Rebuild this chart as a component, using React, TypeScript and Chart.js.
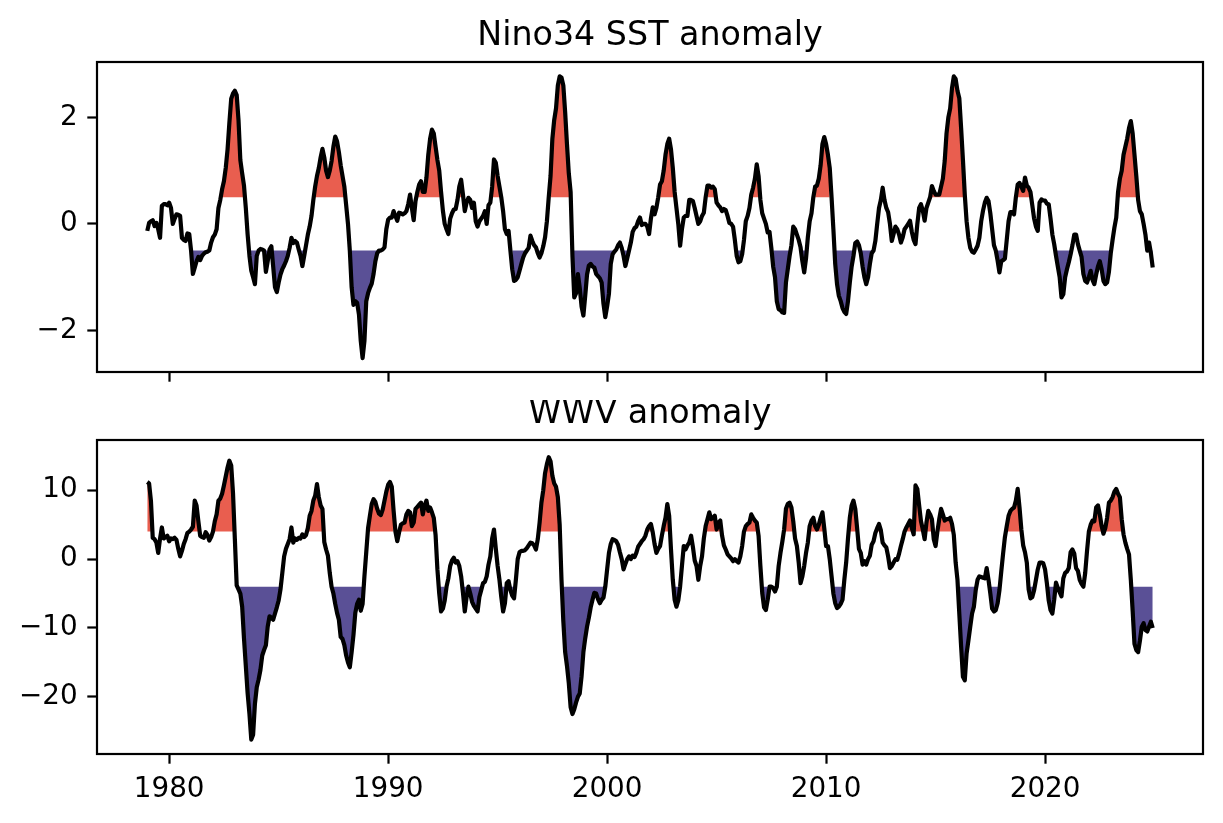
import React, { useEffect, useRef } from "react";
import { Chart, registerables } from "chart.js";
Chart.register(...registerables);

const START_YEAR = 1979;
const X_TICKS = [1980, 1990, 2000, 2010, 2020];
const NINO_Y_TICKS = [-2, 0, 2];
const WWV_Y_TICKS = [-20, -10, 0, 10];
const NINO_THRESHOLD = 0.5;
const WWV_THRESHOLD = 4;
const TITLES = ["Nino34 SST anomaly", "WWV anomaly"];

// Monthly Nino34 SST anomaly, Jan 1979 .. Dec 2024
const NINO34 = [
  -0.13, 0.02, 0.05, 0.07, -0.04, 0.02, -0.1, -0.26, 0.34, 0.37, 0.37, 0.35,
  0.4, 0.3, 0.0, 0.1, 0.18, 0.17, 0.15, -0.26, -0.3, -0.32, -0.18, -0.19,
  -0.5, -0.94, -0.82, -0.7, -0.62, -0.68, -0.6, -0.56, -0.53, -0.52, -0.5, -0.35,
  -0.25, -0.2, -0.1, 0.3, 0.45, 0.65, 0.8, 1.05, 1.4, 1.9, 2.35, 2.45,
  2.5, 2.42, 1.95, 1.2, 0.95, 0.72, 0.3, -0.2, -0.6, -0.88, -1.0, -1.13,
  -0.6, -0.5, -0.47, -0.48, -0.5, -0.9, -0.7, -0.48, -0.42, -0.8, -1.19, -1.28,
  -1.1, -0.95, -0.85, -0.78, -0.7, -0.6, -0.45, -0.26, -0.36, -0.32, -0.35, -0.48,
  -0.6, -0.79, -0.6, -0.4, -0.2, -0.05, 0.15, 0.45, 0.7, 0.9, 1.05, 1.25,
  1.41, 1.25, 1.0, 0.88, 1.0, 1.18, 1.45, 1.64, 1.55, 1.35, 1.1, 0.9,
  0.7, 0.35, 0.0, -0.5, -1.19, -1.52, -1.45, -1.48, -1.7, -2.2, -2.52, -2.2,
  -1.45, -1.3, -1.2, -1.12, -0.94, -0.7, -0.55, -0.5, -0.5, -0.48, -0.44, -0.1,
  0.08, 0.12, 0.12, 0.24, 0.15, 0.06, 0.21, 0.2, 0.18, 0.2, 0.24, 0.37,
  0.55, 0.3, 0.07, 0.43, 0.6, 0.74, 0.8, 0.6, 0.6, 0.87, 1.3, 1.6,
  1.77, 1.7, 1.45, 1.2, 1.0, 0.6, 0.25, 0.0, -0.1, -0.19, 0.1, 0.2,
  0.27, 0.28, 0.45, 0.7, 0.83, 0.55, 0.24, 0.4, 0.49, 0.45, 0.3, 0.4,
  0.05, -0.05, 0.05, 0.1, 0.15, 0.24, 0.0, 0.35, 0.4, 0.7, 1.21, 1.15,
  0.9, 0.7, 0.5, 0.24, -0.1, -0.19, -0.13, -0.5, -0.85, -1.07, -1.05, -1.0,
  -0.88, -0.75, -0.63, -0.55, -0.5, -0.45, -0.22, -0.32, -0.4, -0.44, -0.55, -0.63,
  -0.55, -0.42, -0.25, 0.05, 0.5, 0.9, 1.6, 1.95, 2.17, 2.6, 2.77, 2.75,
  2.6, 2.1, 1.5, 0.95, 0.6, -0.6, -1.38, -1.3, -0.94, -1.2, -1.55, -1.72,
  -1.35, -0.95, -0.78, -0.75, -0.8, -0.82, -0.94, -0.98, -1.02, -1.1, -1.5, -1.75,
  -1.55, -1.31, -0.75, -0.57, -0.52, -0.48, -0.4, -0.35, -0.45, -0.6, -0.79, -0.65,
  -0.5, -0.35, -0.15, -0.08, -0.05, 0.05, 0.12, -0.02, 0.0, 0.0, -0.05, -0.19,
  0.1, 0.31, 0.18, 0.3, 0.5, 0.74, 0.8, 1.0, 1.3, 1.5, 1.6, 1.4,
  1.05, 0.6, 0.3, 0.0, -0.41, -0.1, 0.12, 0.15, 0.15, 0.45, 0.45, 0.43,
  0.3, 0.15, 0.0, 0.05, 0.15, 0.21, 0.5, 0.72, 0.72, 0.68, 0.7, 0.65,
  0.4, 0.35, 0.31, 0.24, 0.28, 0.26, 0.15, 0.02, 0.0, -0.05, -0.3, -0.6,
  -0.72, -0.7, -0.57, -0.3, 0.05, 0.15, 0.3, 0.55, 0.68, 0.85, 1.12, 0.9,
  0.45, 0.2, 0.1, 0.0, -0.16, -0.15, -0.45, -0.8, -1.0, -1.45, -1.6, -1.62,
  -1.66, -1.67, -1.1, -0.85, -0.6, -0.4, -0.05, -0.1, -0.2, -0.3, -0.44, -0.7,
  -0.91, -0.65, -0.25, 0.05, 0.2, 0.5, 0.7, 0.72, 0.85, 1.1, 1.5, 1.63,
  1.5, 1.3, 1.05, 0.5, -0.1, -0.75, -1.13, -1.35, -1.45, -1.58, -1.65, -1.69,
  -1.45, -1.1, -0.8, -0.6, -0.36, -0.33, -0.4, -0.55, -0.8, -1.0, -1.13, -1.0,
  -0.75, -0.55, -0.5, -0.32, 0.0, 0.3, 0.45, 0.68, 0.45, 0.3, 0.22, 0.0,
  -0.32, -0.19, -0.05, -0.1, -0.2, -0.35, -0.25, -0.1, -0.05, 0.0, 0.06, -0.15,
  -0.3, -0.38, 0.0, 0.3, 0.37, 0.25, 0.06, 0.3, 0.4, 0.5, 0.71, 0.62,
  0.55, 0.55, 0.55, 0.7, 0.85, 1.18, 1.7, 2.0, 2.17, 2.55, 2.77, 2.72,
  2.5, 2.36, 1.8, 1.2, 0.55, 0.05, -0.26, -0.45, -0.52, -0.54, -0.48, -0.41,
  -0.26, 0.05, 0.25, 0.4, 0.49, 0.43, 0.2, -0.1, -0.4, -0.5, -0.69, -0.91,
  -0.7, -0.68, -0.65, -0.3, 0.05, 0.22, 0.22, 0.18, 0.5, 0.74, 0.77, 0.7,
  0.62, 0.87, 0.72, 0.68, 0.6, 0.35, 0.1, -0.05, -0.13, 0.4, 0.46, 0.44,
  0.44, 0.38, 0.37, 0.1, -0.2, -0.38, -0.6, -0.8, -1.0, -1.38, -1.32, -1.0,
  -0.85, -0.72, -0.57, -0.4, -0.2, -0.2, -0.38, -0.5, -0.62, -0.94, -1.07, -1.1,
  -1.0, -0.88, -1.05, -1.13, -0.95, -0.8, -0.7, -0.85, -1.07, -1.13, -1.1, -0.9,
  -0.55, -0.3, -0.07, 0.12, 0.6, 0.85, 1.0, 1.3, 1.45, 1.6, 1.8, 1.93,
  1.7, 1.3, 0.9, 0.45, 0.24, 0.18, 0.0, -0.2, -0.5, -0.35, -0.55, -0.82,
];

// Monthly WWV anomaly, Jan 1979 .. Dec 2024
const WWV = [
  11.2, 11.0, 8.5, 3.1, 2.9, 2.4, 0.9, 3.0, 4.6, 3.0, 3.2, 3.4,
  2.6, 3.0, 2.9, 3.1, 2.8, 1.5, 0.4, 1.2, 2.2, 2.9, 3.8, 4.0,
  4.3, 4.7, 8.5, 7.8, 5.5, 3.4, 3.2, 3.1, 3.9, 3.5, 2.7, 3.2,
  4.0, 5.5, 6.5, 8.5, 8.8, 9.5, 10.7, 12.0, 13.3, 14.3, 13.6, 9.5,
  2.9, -3.8, -4.4, -5.0, -6.9, -11.5, -15.5, -19.5, -22.5, -26.2, -25.5, -21.0,
  -18.6, -17.5, -16.1, -14.0, -13.2, -12.5, -9.8, -8.3, -8.5, -8.8, -7.9, -7.0,
  -6.0, -4.4, -2.0, 0.4, 1.5, 2.2, 2.9, 4.6, 2.4, 3.0, 2.8, 3.1,
  3.0, 3.6, 3.2, 3.5, 4.5, 6.3, 7.0, 8.5, 9.2, 10.9, 9.0, 7.8,
  7.3, 2.5, 1.4, 0.5, -2.0, -4.0, -5.0, -6.5, -7.8, -8.8, -11.3, -11.6,
  -12.5, -14.0, -15.0, -15.7, -13.5, -11.0, -7.8, -6.5, -5.9, -7.5, -6.5, -2.5,
  1.0, 4.5, 6.3, 8.0, 8.7, 8.3, 7.3, 6.6, 6.4, 7.2, 8.5, 9.8,
  10.8, 11.2, 10.5, 7.0, 4.0, 2.6, 3.9, 5.0, 5.2, 5.3, 6.5, 7.0,
  6.8, 4.8, 5.3, 7.3, 7.6, 7.9, 8.2, 6.5, 7.8, 8.5, 7.0, 7.5,
  6.8, 6.0, 3.5, -1.5, -5.0, -7.6, -7.2, -6.0, -4.0, -2.8, -1.0, -0.2,
  0.2, -0.5, -0.3, -1.0, -2.5, -4.9, -7.6, -5.5, -4.0, -5.0, -6.2, -6.8,
  -7.2, -7.6, -5.5, -4.5, -3.5, -3.3, -2.5, -0.8, 0.4, 3.0, 4.3, 1.5,
  -1.0, -3.0, -5.5, -7.6, -6.4, -3.5, -3.2, -4.5, -5.3, -5.7, -3.0, 0.0,
  1.0, 1.2, 1.2, 1.3, 1.6, 2.0, 2.4, 2.3, 2.0, 1.4, 2.9, 5.3,
  8.2, 10.0, 12.5, 13.8, 14.8, 14.2, 12.1, 11.0, 10.5, 9.0, 5.0, -3.0,
  -9.0, -13.5, -15.5, -18.0, -21.5, -22.5, -21.8, -20.8, -20.0, -19.5, -17.0, -13.5,
  -11.5, -9.8, -8.5, -7.0, -5.9, -4.9, -5.0, -5.8, -6.4, -5.9, -5.6, -4.0,
  -1.5, 0.9, 2.2, 2.9, 2.8, 2.6, 2.1, 1.0, 0.0, -1.5, -0.7, 0.0,
  0.4, 0.0, 0.5, 0.3, 0.9, 1.8, 2.2, 2.6, 2.9, 3.4, 4.3, 4.8,
  5.1, 3.9, 2.2, 0.9, 1.5, 1.9, 3.4, 4.8, 6.0, 8.0, 6.3, 1.4,
  -3.0, -5.9, -6.9, -6.0, -4.0, -1.0, 1.9, 1.4, 2.0, 2.4, 3.4, 1.8,
  -0.2, -1.0, -3.0, -1.0, 0.4, 3.0, 4.8, 5.8, 6.8, 5.8, 6.0, 6.3,
  4.3, 5.3, 5.6, 3.4, 2.0, 1.4, 0.7, 0.4, 0.1, -0.3, 0.0, -0.3,
  -0.5, 0.4, 1.9, 4.0, 4.8, 5.1, 5.3, 6.5, 6.0, 5.6, 5.3, 3.4,
  -1.0, -4.9, -7.0, -7.4, -5.9, -4.0, -4.0, -4.2, -4.7, -4.0, -1.0, 0.9,
  2.5, 4.3, 7.3, 8.0, 8.2, 7.5, 5.5, 3.0, 1.9, -0.5, -3.5, -2.5,
  -1.0, 0.9, 2.4, 4.8, 5.6, 6.0, 4.8, 4.3, 5.0, 6.0, 6.8, 4.5,
  1.9, 1.9, 0.0, -2.5, -5.0, -6.4, -7.1, -6.9, -6.5, -5.9, -3.0, -0.5,
  3.0, 6.0, 7.8, 8.5, 7.3, 4.5, 1.5, 0.9, -0.8, -0.3, -0.8, 0.0,
  0.5, 2.1, 2.6, 3.8, 4.5, 5.1, 4.2, 2.4, 2.0, 1.7, 0.4, -1.3,
  -1.0, -0.5, 0.0, -0.1, 0.8, 1.9, 2.9, 4.0, 4.6, 5.1, 5.6, 4.5,
  3.6, 10.7, 10.2, 7.8, 5.5, 4.3, 2.9, 5.3, 7.0, 6.5, 5.8, 2.9,
  1.9, 4.0, 5.8, 7.3, 6.5, 5.6, 5.8, 5.8, 6.0, 5.1, 3.5, -0.5,
  -3.0, -7.9, -12.7, -17.1, -17.6, -13.7, -11.8, -9.8, -7.9, -6.9, -4.5, -3.0,
  -2.5, -2.6, -2.7, -2.8, -1.3, -3.0, -5.0, -7.2, -7.6, -7.4, -6.4, -4.5,
  -1.8, 0.8, 3.2, 4.8, 6.3, 7.0, 7.3, 7.5, 8.5, 10.2, 7.5, 4.3,
  2.0, 1.0, -0.5, -4.4, -5.7, -5.5, -4.5, -3.0, -1.5, -0.5, -0.5, -0.6,
  -1.5, -3.5, -6.0, -7.4, -7.9, -5.9, -3.4, -4.2, -4.8, -5.4, -2.8, -2.0,
  -1.8, -1.3, 1.0, 1.4, 0.8, -1.3, -1.7, -3.0, -3.6, -4.0, -2.0, 1.2,
  4.0, 5.0, 5.6, 5.5, 7.5, 7.8, 6.5, 4.8, 3.7, 4.5, 6.0, 8.2,
  8.5, 9.0, 9.8, 10.2, 9.5, 9.0, 5.8, 3.6, 2.4, 1.5, 0.7, -3.0,
  -7.5, -12.3, -13.2, -13.5, -11.8, -9.8, -9.3, -10.3, -10.5, -9.8, -9.1, -10.0,
];

const RED = "rgba(231,76,60,0.9)";
const BLUE = "rgba(72,61,139,0.9)";
const NONE = "rgba(0,0,0,0)";
const FONT = "'DejaVu Sans', sans-serif";
const TICK_PX = 27.8;
const TITLE_PX = 33.3;
const TICK_LEN = 9.7;

const fmt = (v: number) => (v < 0 ? "\u2212" + Math.abs(v) : String(v));

function framePlugin(title: string) {
  return {
    id: "frame_" + title.replace(/\s/g, ""),
    afterDraw(chart: any) {
      const { ctx, chartArea } = chart;
      const { left, right, top, bottom } = chartArea;
      ctx.save();
      ctx.strokeStyle = "#000";
      ctx.lineWidth = 2.2;
      ctx.strokeRect(left, top, right - left, bottom - top);
      ctx.fillStyle = "#000";
      ctx.font = `${TITLE_PX}px ${FONT}`;
      ctx.textAlign = "center";
      ctx.textBaseline = "alphabetic";
      ctx.fillText(title, (left + right) / 2, top - 16.7);
      ctx.restore();
    },
  };
}

function makeConfig(
  values: number[],
  threshold: number,
  yTicks: number[],
  yMin: number,
  yMax: number,
  showXLabels: boolean,
  padTop: number,
  xAxisHeight: number,
  title: string
): any {
  const xs = values.map((_, i) => START_YEAR + i / 12);
  const pts = values.map((v, i) => ({ x: xs[i], y: v }));
  // where-masked copies (like fill_between(..., where=...)): points outside the band become gaps
  const upper = values.map((v, i) => ({ x: xs[i], y: v > threshold ? v : null }));
  const lower = values.map((v, i) => ({ x: xs[i], y: v < -threshold ? v : null }));
  const n = values.length;
  const x0 = START_YEAR;
  const x1 = START_YEAR + (n - 1) / 12;
  const margin = (x1 - x0) * 0.05;
  return {
    type: "line",
    data: {
      datasets: [
        {
          data: upper,
          borderWidth: 0,
          borderColor: NONE,
          backgroundColor: RED,
          pointRadius: 0,
          spanGaps: false,
          order: 2,
          fill: { target: { value: threshold } },
        },
        {
          data: lower,
          borderWidth: 0,
          borderColor: NONE,
          backgroundColor: BLUE,
          pointRadius: 0,
          spanGaps: false,
          order: 1,
          fill: { target: { value: -threshold } },
        },
        {
          data: pts,
          borderWidth: 4.2,
          borderColor: "#000",
          borderJoinStyle: "round",
          pointRadius: 0,
          order: 0,
          fill: false,
        },
      ],
    },
    options: {
      animation: false,
      responsive: false,
      devicePixelRatio: 1,
      layout: { padding: { left: 0, right: 20, top: padTop, bottom: 0 } },
      plugins: {
        legend: { display: false },
        tooltip: { enabled: false },
        title: { display: false },
      },
      scales: {
        x: {
          type: "linear",
          min: x0 - margin,
          max: x1 + margin,
          afterBuildTicks: (s: any) => {
            s.ticks = X_TICKS.map((v) => ({ value: v }));
          },
          afterFit: (s: any) => {
            s.height = xAxisHeight;
          },
          border: { display: false },
          grid: {
            drawOnChartArea: false,
            drawTicks: true,
            tickLength: TICK_LEN,
            tickWidth: 2.2,
            tickColor: "#000",
          },
          ticks: {
            autoSkip: false,
            maxRotation: 0,
            padding: TICK_LEN,
            color: "#000",
            font: { family: FONT, size: TICK_PX },
            callback: (v: number) => (showXLabels ? String(v) : ""),
          },
        },
        y: {
          type: "linear",
          min: yMin,
          max: yMax,
          afterBuildTicks: (s: any) => {
            s.ticks = yTicks.map((v) => ({ value: v }));
          },
          afterFit: (s: any) => {
            s.width = 97;
          },
          border: { display: false },
          grid: {
            drawOnChartArea: false,
            drawTicks: true,
            tickLength: TICK_LEN,
            tickWidth: 2.2,
            tickColor: "#000",
          },
          ticks: {
            autoSkip: false,
            padding: TICK_LEN,
            color: "#000",
            font: { family: FONT, size: TICK_PX },
            callback: (v: number) => fmt(v),
          },
        },
      },
    },
    plugins: [framePlugin(title)],
  };
}

export default function App() {
  const topRef = useRef<HTMLCanvasElement>(null);
  const botRef = useRef<HTMLCanvasElement>(null);

  useEffect(() => {
    const c1 = new Chart(
      topRef.current as HTMLCanvasElement,
      makeConfig(NINO34, NINO_THRESHOLD, NINO_Y_TICKS, -2.78, 3.04, false, 62, 28, TITLES[0])
    );
    const c2 = new Chart(
      botRef.current as HTMLCanvasElement,
      makeConfig(WWV, WWV_THRESHOLD, WWV_Y_TICKS, -28.3, 17.3, true, 40, 69, TITLES[1])
    );
    return () => {
      c1.destroy();
      c2.destroy();
    };
  }, []);

  return (
    <div
      style={{
        position: "absolute",
        left: 0,
        top: 0,
        width: 1223,
        height: 823,
        background: "#fff",
      }}
    >
      <canvas
        ref={topRef}
        width={1223}
        height={400}
        style={{ position: "absolute", left: 0, top: 0, width: 1223, height: 400 }}
      />
      <canvas
        ref={botRef}
        width={1223}
        height={423}
        style={{ position: "absolute", left: 0, top: 400, width: 1223, height: 423 }}
      />
    </div>
  );
}
